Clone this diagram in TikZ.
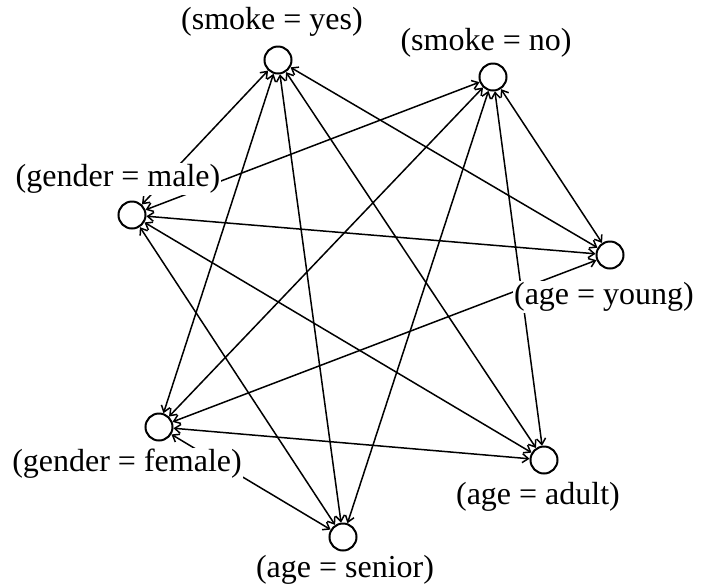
\documentclass[tikz,border=0pt]{standalone}
\usepackage{fontspec}
\setmainfont{Liberation Serif}
\usepackage{tikz}
\usetikzlibrary{arrows.meta}

\begin{document}
\begin{tikzpicture}[x=0.5pt,y=-0.5pt,
  state/.style={circle,draw,line width=1pt,minimum size=13.5pt,inner sep=0pt,fill=white},
  link/.style={{Straight Barb[length=3pt,width=4.5pt]}-{Straight Barb[length=3pt,width=4.5pt]},line width=0.75pt},
  lbl/.style={fill=white,inner sep=0.5pt,font=\fontsize{16}{19}\selectfont}]
  \useasboundingbox (0,0) rectangle (703,586);
  % attribute values
  \node[state] (sy) at (278,60) {};
  \node[state] (sn) at (493,77) {};
  \node[state] (gm) at (132,215) {};
  \node[state] (ay) at (610,255) {};
  \node[state] (gf) at (159,427) {};
  \node[state] (aa) at (544,460) {};
  \node[state] (as) at (343,537) {};

  % smoke -- gender / age
  \draw[link] (sy) -- (gm); \draw[link] (sy) -- (gf);
  \draw[link] (sy) -- (ay); \draw[link] (sy) -- (aa); \draw[link] (sy) -- (as);
  \draw[link] (sn) -- (gm); \draw[link] (sn) -- (gf);
  \draw[link] (sn) -- (ay); \draw[link] (sn) -- (aa); \draw[link] (sn) -- (as);
  % gender -- age
  \draw[link] (gm) -- (ay); \draw[link] (gm) -- (aa); \draw[link] (gm) -- (as);
  \draw[link] (gf) -- (ay); \draw[link] (gf) -- (aa); \draw[link] (gf) -- (as);

  % labels (on top of the lines)
  \node[lbl] (sylbl) at (272,22) {(smoke = yes)};
  \node[lbl] (snlbl) at (486,43) {(smoke = no)};
  \node[lbl] (gmlbl) at (118,179) {(gender = male)};
  \node[lbl] (aylbl) at (604,297) {(age = young)};
  \node[lbl] (gflbl) at (127,464) {(gender = female)};
  \node[lbl] (aalbl) at (538,497) {(age = adult)};
  \node[lbl] (aslbl) at (345,570) {(age = senior)};
\end{tikzpicture}
\end{document}
